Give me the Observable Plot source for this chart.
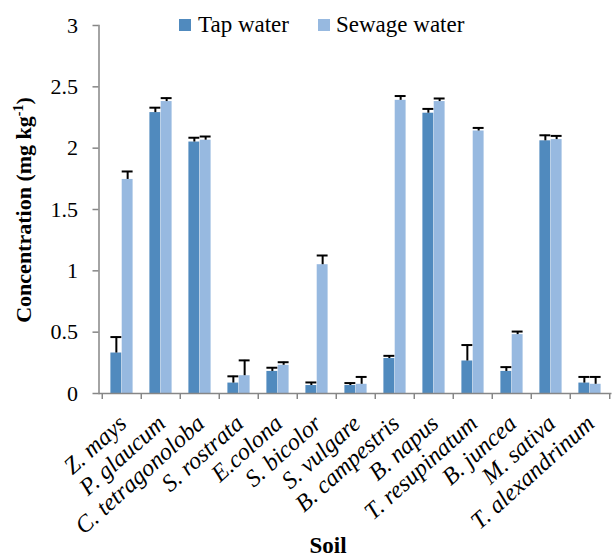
<!DOCTYPE html>
<html>
<head>
<meta charset="utf-8">
<script src="https://cdn.jsdelivr.net/npm/d3@7"></script>
<script src="https://cdn.jsdelivr.net/npm/@observablehq/plot@0.6"></script>
<style>
  body { margin: 0; background: white; }
  #wrap { position: relative; width: 613px; height: 559px; font-family: 'Liberation Serif'; color: black; }
  #wrap svg { position: absolute; left: 0; top: 0; }
  #wrap svg text { font-family: 'Liberation Serif'; }
  .lg-sw { position: absolute; width: 12px; height: 12px; }
  .lg-tx { position: absolute; font-family: 'Liberation Serif'; font-size: 23px; line-height: 23px; white-space: nowrap; }
  #ytitle { position: absolute; left: 24px; top: 210px; transform: translate(-50%, -50%) rotate(-90deg); font-family: 'Liberation Serif'; font-weight: bold; font-size: 22px; line-height: 22px; white-space: nowrap; }
  #ytitle sup { font-size: 14px; line-height: 0; }
  #xtitle { position: absolute; left: 328px; top: 534px; transform: translateX(-50%); font-family: 'Liberation Serif'; font-weight: bold; font-size: 23px; line-height: 23px; }
</style>
</head>
<body>
<div id="wrap"></div>
<script>
const categories = ["Z. mays", "P. glaucum", "C. tetragonoloba", "S. rostrata", "E.colona", "S. bicolor", "S. vulgare", "B. campestris", "B. napus", "T. resupinatum", "B. juncea", "M. sativa", "T. alexandrinum"];
const seriesNames = ["Tap water", "Sewage water"];
const tapValues    = [0.33, 2.29, 2.05, 0.085, 0.18, 0.065, 0.065, 0.285, 2.285, 0.265, 0.18, 2.06, 0.085];
const tapErrors    = [0.13, 0.04, 0.035, 0.055, 0.03, 0.025, 0.02, 0.022, 0.035, 0.13, 0.035, 0.045, 0.05];
const sewageValues = [1.745, 2.38, 2.065, 0.145, 0.23, 1.05, 0.075, 2.39, 2.38, 2.14, 0.48, 2.07, 0.075];
const sewageErrors = [0.065, 0.028, 0.03, 0.125, 0.025, 0.075, 0.06, 0.035, 0.025, 0.025, 0.025, 0.03, 0.06];
const yTicks = [0, 0.5, 1, 1.5, 2, 2.5, 3];
const yTickLabels = ["0", "0.5", "1", "1.5", "2", "2.5", "3"];

const tapColor = "#508abe";
const sewageColor = "#97b9e0";
const axisGray = "#868686";
const serif = "'Liberation Serif'";

const tap = categories.map((c, i) => ({category: c, value: tapValues[i], error: tapErrors[i]}));
const sewage = categories.map((c, i) => ({category: c, value: sewageValues[i], error: sewageErrors[i]}));

const W = 613, H = 559, mL = 98.5, mR = 1.5, mT = 25, mB = 166;
const bw = (W - mL - mR) / categories.length;
const tapInset = {insetLeft: 8.4, insetRight: 19.7};
const sewInset = {insetLeft: 19.7, insetRight: 8.4};
const tapDx = 8.4 + (bw - 8.4 - 19.7) / 2 - bw / 2;
const sewDx = 19.7 + (bw - 19.7 - 8.4) / 2 - bw / 2;

const chart = Plot.plot({
  width: W, height: H,
  marginLeft: mL, marginRight: mR, marginTop: mT, marginBottom: mB,
  style: {fontFamily: serif, fontSize: "22px", color: "black", background: "transparent", overflow: "visible"},
  x: {domain: categories, padding: 0, axis: null},
  y: {domain: [0, 3], axis: null},
  marks: [
    Plot.barY(tap, {x: "category", y: "value", fill: tapColor, ...tapInset}),
    Plot.barY(sewage, {x: "category", y: "value", fill: sewageColor, ...sewInset}),
    Plot.ruleX(tap, {x: "category", y1: "value", y2: d => d.value + d.error, dx: tapDx, stroke: "black", strokeWidth: 2}),
    Plot.tickY(tap, {x: "category", y: d => d.value + d.error, stroke: "black", strokeWidth: 2, ...tapInset}),
    Plot.ruleX(sewage, {x: "category", y1: "value", y2: d => d.value + d.error, dx: sewDx, stroke: "black", strokeWidth: 2}),
    Plot.tickY(sewage, {x: "category", y: d => d.value + d.error, stroke: "black", strokeWidth: 2, ...sewInset}),
    Plot.frame({anchor: "left", stroke: axisGray, strokeWidth: 1.5}),
    Plot.ruleY([0], {stroke: axisGray, strokeWidth: 1.5}),
    Plot.axisY({ticks: yTicks, tickSize: 6, fill: "none", stroke: axisGray, strokeWidth: 1.5}),
    Plot.axisY({ticks: yTicks, tickSize: 0, tickPadding: 21, tickFormat: (d) => yTickLabels[yTicks.indexOf(d)], fill: "black", fontSize: 22, fontFamily: serif, label: null}),
    Plot.axisX({ticks: categories, tickSize: 6, fill: "none", stroke: axisGray, strokeWidth: 1.5, dx: -bw / 2}),
    Plot.axisX({ticks: categories.slice(-1), tickSize: 6, fill: "none", stroke: axisGray, strokeWidth: 1.5, dx: bw / 2}),
    Plot.text(categories, {x: d => d, text: d => d, frameAnchor: "bottom", rotate: -42, textAnchor: "end", lineAnchor: "bottom", dx: 6, dy: 32, fontStyle: "italic", fontSize: 24, fontFamily: serif, fill: "black"})
  ]
});

const wrap = document.getElementById("wrap");
wrap.appendChild(chart);

const legendItems = [
  {name: seriesNames[0], color: tapColor, sw: 179, tx: 198},
  {name: seriesNames[1], color: sewageColor, sw: 318, tx: 336}
];
for (const it of legendItems) {
  const s = document.createElement("div");
  s.className = "lg-sw";
  s.style.left = it.sw + "px"; s.style.top = "19px"; s.style.background = it.color;
  wrap.appendChild(s);
  const t = document.createElement("div");
  t.className = "lg-tx";
  t.style.left = it.tx + "px"; t.style.top = "12.5px";
  t.textContent = it.name;
  wrap.appendChild(t);
}
const yt = document.createElement("div");
yt.id = "ytitle";
yt.innerHTML = "Concentration (mg kg<sup>-1</sup>)";
wrap.appendChild(yt);
const xt = document.createElement("div");
xt.id = "xtitle";
xt.textContent = "Soil";
wrap.appendChild(xt);
</script>
</body>
</html>
